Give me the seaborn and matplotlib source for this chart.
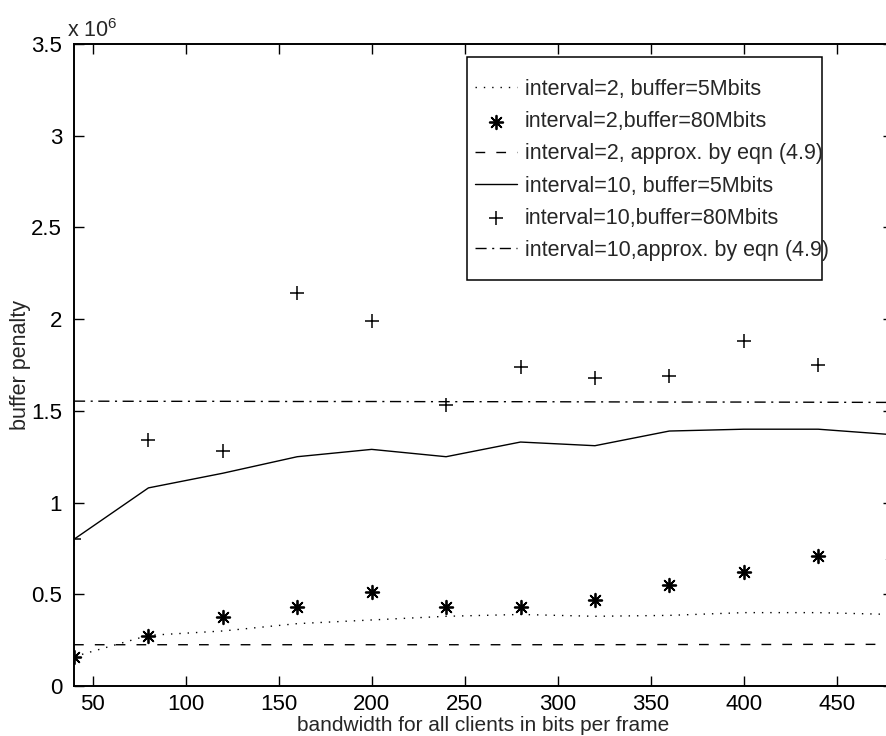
import matplotlib
matplotlib.use("Agg")
import matplotlib.pyplot as plt
from matplotlib.ticker import FuncFormatter, FixedLocator
from matplotlib.patches import Rectangle
import numpy as np
import pandas as pd
import seaborn as sns

# ---- data ----
bandwidth = [40, 80, 120, 160, 200, 240, 280, 320, 360, 400, 440, 480]

i2_buf5 = [0.16e6, 0.276e6, 0.30e6, 0.34e6, 0.36e6, 0.38e6, 0.39e6, 0.38e6,
           0.385e6, 0.40e6, 0.40e6, 0.39e6]
i2_buf80 = [0.16e6, 0.27e6, 0.376e6, 0.43e6, 0.51e6, 0.43e6, 0.43e6, 0.47e6,
            0.55e6, 0.62e6, 0.71e6, 0.69e6]
i2_approx = [0.225e6, 0.225e6, 0.225e6, 0.225e6, 0.225e6, 0.225e6, 0.225e6,
             0.225e6, 0.226e6, 0.226e6, 0.227e6, 0.227e6]
i10_buf5 = [0.80e6, 1.08e6, 1.16e6, 1.25e6, 1.29e6, 1.25e6, 1.33e6, 1.31e6,
            1.39e6, 1.40e6, 1.40e6, 1.37e6]
i10_buf80 = [0.80e6, 1.34e6, 1.28e6, 2.14e6, 1.99e6, 1.53e6, 1.74e6, 1.68e6,
             1.69e6, 1.88e6, 1.75e6, 1.82e6]
i10_approx = [1.553e6, 1.552e6, 1.552e6, 1.551e6, 1.551e6, 1.550e6, 1.550e6,
              1.549e6, 1.548e6, 1.548e6, 1.547e6, 1.546e6]

labels = ["interval=2, buffer=5Mbits",
          "interval=2,buffer=80Mbits",
          "interval=2, approx. by eqn (4.9)",
          "interval=10, buffer=5Mbits",
          "interval=10,buffer=80Mbits",
          "interval=10,approx. by eqn (4.9)"]

x_ticks = [50, 100, 150, 200, 250, 300, 350, 400, 450]
y_ticks = [0, 0.5e6, 1.0e6, 1.5e6, 2.0e6, 2.5e6, 3.0e6, 3.5e6]

df = pd.DataFrame({"bw": bandwidth,
                   "i2_buf5": i2_buf5, "i2_buf80": i2_buf80,
                   "i2_approx": i2_approx, "i10_buf5": i10_buf5,
                   "i10_buf80": i10_buf80, "i10_approx": i10_approx})

sns.set_theme(style="ticks")
plt.rcParams["font.family"] = ["Liberation Sans", "DejaVu Sans"]
plt.rcParams["mathtext.fontset"] = "custom"
plt.rcParams["mathtext.rm"] = "Liberation Sans"

FS = 15.5

fig = plt.figure(figsize=(8.86, 7.36), dpi=100)
AX_L, AX_B, AX_W, AX_H = 74, 50, 818.6, 642
ax = fig.add_axes([AX_L / 886, AX_B / 736, AX_W / 886, AX_H / 736])

lw = 1.0
sns.lineplot(data=df, x="bw", y="i2_buf5", ax=ax, color="black", lw=lw,
             label=labels[0])
ax.lines[-1].set_dashes((1, 5))
sns.scatterplot(data=df, x="bw", y="i2_buf80", ax=ax, marker=(8, 2, 0),
                s=95, color="black", linewidth=1.3, label=labels[1])
sns.lineplot(data=df, x="bw", y="i2_approx", ax=ax, color="black", lw=lw,
             label=labels[2])
ax.lines[-1].set_dashes((7, 8))
sns.lineplot(data=df, x="bw", y="i10_buf5", ax=ax, color="black", lw=lw,
             label=labels[3])
sns.scatterplot(data=df, x="bw", y="i10_buf80", ax=ax, marker="+",
                s=95, color="black", linewidth=1.1, label=labels[4])
sns.lineplot(data=df, x="bw", y="i10_approx", ax=ax, color="black", lw=lw,
             label=labels[5])
ax.lines[-1].set_dashes((8, 4, 1.5, 4))

ax.set_xlim(40, 480)
ax.set_ylim(0, 3.5e6)
ax.xaxis.set_major_locator(FixedLocator(x_ticks))
ax.yaxis.set_major_locator(FixedLocator(y_ticks))
ax.yaxis.set_major_formatter(FuncFormatter(lambda v, p: f"{v/1e6:g}"))
ax.tick_params(direction="in", length=7, width=1, top=True, right=True,
               labelsize=16, colors="black")
ax.tick_params(axis="x", pad=6)
ax.tick_params(axis="y", pad=8.5)
for s in ax.spines.values():
    s.set_visible(True)
    s.set_color("black")
    s.set_linewidth(1.4)

ax.set_xlabel("bandwidth for all clients in bits per frame", fontsize=15)
ax.set_ylabel("buffer penalty", fontsize=FS)
ax.xaxis.set_label_coords(0.5, (686 - 716) / AX_H)
ax.yaxis.set_label_coords((31 - AX_L) / AX_W, 0.5)
ax.text(-0.009, 1.003, r"x 10$^{6}$", transform=ax.transAxes, fontsize=FS,
        ha="left", va="bottom")

# legend (text in reference order), frame drawn as in the scan
handles, lbls = ax.get_legend_handles_labels()
order = [lbls.index(l) for l in labels]
leg = ax.legend([handles[i] for i in order], [lbls[i] for i in order],
                loc="upper left",
                bbox_to_anchor=((475 - AX_L) / AX_W, (686 - 79) / AX_H),
                fontsize=FS, frameon=False,
                handlelength=1.95, handletextpad=0.37, labelspacing=0.52,
                borderpad=0, borderaxespad=0)
box = Rectangle(((467 - AX_L) / AX_W, (686 - 280) / AX_H),
                (822 - 467) / AX_W, (280 - 57) / AX_H,
                transform=ax.transAxes, fill=True, facecolor="white",
                edgecolor="black", lw=1.1, zorder=4.9)
ax.add_patch(box)
leg.set_zorder(5)

fig.savefig("out.png", dpi=100, facecolor="white")
